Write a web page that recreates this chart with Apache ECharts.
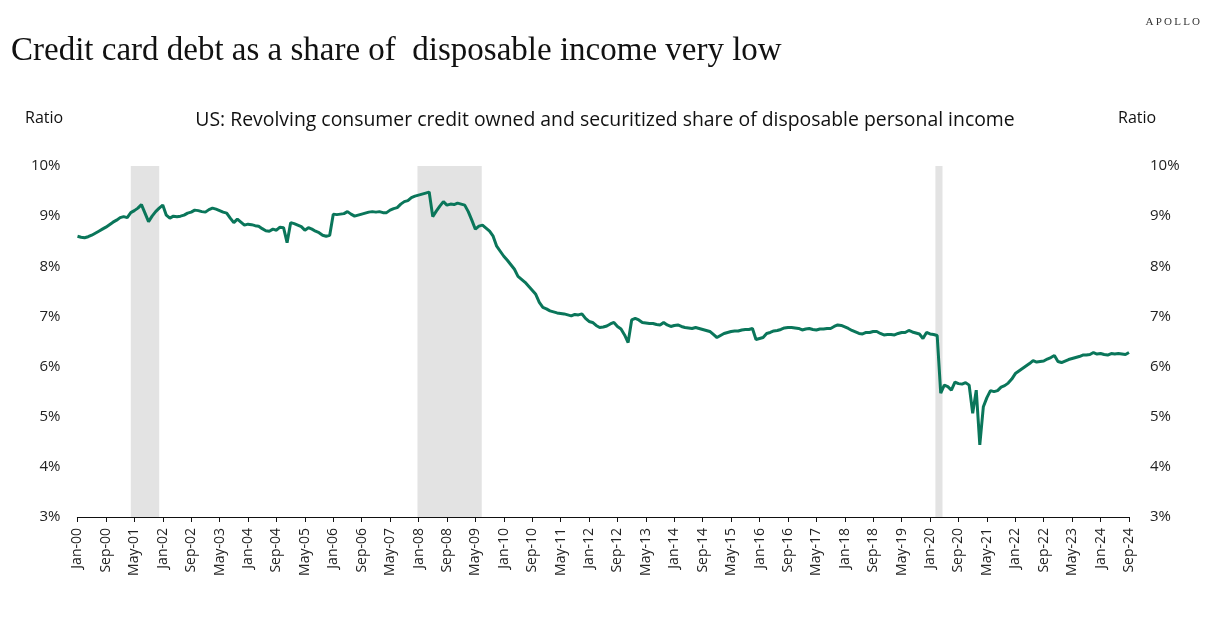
<!DOCTYPE html>
<html><head><meta charset="utf-8">
<script src="https://cdn.jsdelivr.net/npm/echarts@6/dist/echarts.min.js"></script>
<style>html,body{margin:0;padding:0;background:#fff}#c{width:1210px;height:622px}</style>
</head><body><div id="c"></div>
<script>
// Monthly values, Jan-2000 .. Sep-2024 (percent of disposable personal income)
const v2000 = [8.60, 8.58, 8.57, 8.59, 8.62, 8.66, 8.70, 8.74, 8.78, 8.83, 8.88, 8.92];
const v2001 = [8.97, 8.99, 8.97, 9.07, 9.11, 9.16, 9.23, 9.06, 8.89, 9.00, 9.09, 9.16];
const v2002 = [9.22, 9.02, 8.96, 9.00, 8.99, 9.00, 9.02, 9.06, 9.08, 9.12, 9.11, 9.09];
const v2003 = [9.08, 9.13, 9.16, 9.14, 9.11, 9.08, 9.06, 8.96, 8.87, 8.94, 8.88, 8.82];
const v2004 = [8.84, 8.83, 8.81, 8.80, 8.75, 8.71, 8.70, 8.74, 8.72, 8.78, 8.77, 8.47];
const v2005 = [8.87, 8.85, 8.82, 8.79, 8.72, 8.77, 8.74, 8.70, 8.67, 8.62, 8.60, 8.62];
const v2006 = [9.04, 9.03, 9.04, 9.05, 9.09, 9.04, 9.00, 9.02, 9.04, 9.06, 9.08, 9.09];
const v2007 = [9.08, 9.09, 9.07, 9.07, 9.12, 9.15, 9.17, 9.24, 9.29, 9.31, 9.37, 9.40];
const v2008 = [9.42, 9.44, 9.46, 9.48, 8.99, 9.10, 9.20, 9.29, 9.22, 9.24, 9.23, 9.26];
const v2009 = [9.24, 9.22, 9.09, 8.92, 8.74, 8.80, 8.82, 8.76, 8.70, 8.60, 8.40, 8.30];
const v2010 = [8.20, 8.12, 8.03, 7.94, 7.80, 7.74, 7.68, 7.60, 7.52, 7.44, 7.28, 7.18];
const v2011 = [7.15, 7.11, 7.09, 7.07, 7.06, 7.05, 7.03, 7.01, 7.04, 7.03, 7.05, 6.96];
const v2012 = [6.90, 6.88, 6.82, 6.78, 6.79, 6.81, 6.85, 6.88, 6.80, 6.75, 6.63, 6.48];
const v2013 = [6.93, 6.96, 6.93, 6.88, 6.87, 6.86, 6.86, 6.84, 6.83, 6.88, 6.83, 6.80];
const v2014 = [6.82, 6.83, 6.80, 6.78, 6.77, 6.76, 6.78, 6.76, 6.74, 6.72, 6.70, 6.64];
const v2015 = [6.58, 6.62, 6.66, 6.68, 6.70, 6.71, 6.71, 6.73, 6.74, 6.74, 6.76, 6.54];
const v2016 = [6.56, 6.58, 6.66, 6.68, 6.71, 6.72, 6.74, 6.77, 6.78, 6.78, 6.77, 6.76];
const v2017 = [6.73, 6.75, 6.76, 6.74, 6.73, 6.75, 6.75, 6.76, 6.76, 6.80, 6.83, 6.82];
const v2018 = [6.79, 6.76, 6.72, 6.69, 6.66, 6.65, 6.68, 6.68, 6.70, 6.70, 6.66, 6.63];
const v2019 = [6.64, 6.64, 6.63, 6.66, 6.68, 6.68, 6.72, 6.69, 6.67, 6.65, 6.56, 6.68];
const v2020 = [6.65, 6.64, 6.62, 5.47, 5.63, 5.60, 5.53, 5.69, 5.66, 5.65, 5.68, 5.63];
const v2021 = [5.07, 5.53, 4.44, 5.20, 5.38, 5.52, 5.50, 5.52, 5.59, 5.62, 5.67, 5.75];
const v2022 = [5.86, 5.91, 5.96, 6.01, 6.06, 6.12, 6.09, 6.10, 6.11, 6.15, 6.18, 6.22];
const v2023 = [6.10, 6.08, 6.11, 6.14, 6.16, 6.18, 6.20, 6.23, 6.23, 6.24, 6.28, 6.25];
const v2024 = [6.26, 6.24, 6.23, 6.26, 6.25, 6.26, 6.25, 6.24, 6.28];

const tickLabels = ['Jan-00','Sep-00','May-01','Jan-02','Sep-02','May-03','Jan-04','Sep-04','May-05','Jan-06',
  'Sep-06','May-07','Jan-08','Sep-08','May-09','Jan-10','Sep-10','May-11','Jan-12','Sep-12',
  'May-13','Jan-14','Sep-14','May-15','Jan-16','Sep-16','May-17','Jan-18','Sep-18','May-19',
  'Jan-20','Sep-20','May-21','Jan-22','Sep-22','May-23','Jan-24','Sep-24'];
const yTicks = [3, 4, 5, 6, 7, 8, 9, 10];
// Recession shading, in months since Jan-00
const recessionStart = [15, 95.7, 241.5];
const recessionEnd = [23, 113.8, 243.5];

const values = [].concat(v2000,v2001,v2002,v2003,v2004,v2005,v2006,v2007,v2008,v2009,v2010,v2011,
  v2012,v2013,v2014,v2015,v2016,v2017,v2018,v2019,v2020,v2021,v2022,v2023,v2024);
const seriesData = values.map((v, i) => [i, v]);
const lastIdx = values.length - 1;

const chart = echarts.init(document.getElementById('c'), null, {renderer: 'canvas'});
const sans = "'Open Sans', 'Noto Sans', sans-serif";
const baseLabel = {formatter: '{value}%', fontFamily: sans, fontSize: 15, color: '#222'};
const yAxisCommon = {
  type: 'value', min: yTicks[0], max: yTicks[yTicks.length - 1], interval: 1,
  axisLine: {show: false}, axisTick: {show: false}, splitLine: {show: false}
};
chart.setOption({
  animation: false,
  backgroundColor: '#fff',
  title: [
    {text: 'Credit card debt as a share of  disposable income very low', left: 6, top: 30,
     textStyle: {fontFamily: "'Liberation Serif', 'DejaVu Serif', serif", fontSize: 33, fontWeight: 'normal', color: '#111'}},
    {text: 'A\u2009P\u2009O\u2009L\u2009L\u2009O', right: 5, top: 12,
     textStyle: {fontFamily: "'Liberation Serif', serif", fontSize: 11, fontWeight: 'normal', color: '#333'}},
    {text: 'US: Revolving consumer credit owned and securitized share of disposable personal income', left: 'center', top: 106,
     textStyle: {fontFamily: sans, fontSize: 19.4, fontWeight: 'normal', color: '#111'}},
    {text: 'Ratio', left: 20, top: 105, textStyle: {fontFamily: sans, fontSize: 16, fontWeight: 'normal', color: '#111'}},
    {text: 'Ratio', left: 1113, top: 105, textStyle: {fontFamily: sans, fontSize: 16, fontWeight: 'normal', color: '#111'}}
  ],
  grid: {left: 77.5, right: 81, top: 166, bottom: 105, containLabel: false},
  xAxis: {
    type: 'value', min: 0, max: lastIdx, interval: 8,
    splitLine: {show: false},
    axisLine: {show: true, lineStyle: {color: '#111', width: 1.2}},
    axisTick: {show: true, length: 5, lineStyle: {color: '#111'}},
    axisLabel: {rotate: 90, margin: 11, fontFamily: sans, fontSize: 14, color: '#222',
      formatter: (val) => tickLabels[Math.round(val / 8)] || ''}
  },
  yAxis: [
    Object.assign({}, yAxisCommon, {position: 'left', axisLabel: Object.assign({}, baseLabel, {margin: 17})}),
    Object.assign({}, yAxisCommon, {position: 'right', axisLabel: Object.assign({}, baseLabel, {margin: 21})})
  ],
  series: [{
    type: 'line', data: seriesData, showSymbol: false, symbol: 'none',
    lineStyle: {color: '#0a765a', width: 3}, itemStyle: {color: '#0a765a'},
    z: 5,
    markArea: {
      silent: true,
      itemStyle: {color: '#e3e3e3'},
      data: recessionStart.map((s, k) => [{xAxis: s}, {xAxis: recessionEnd[k]}])
    }
  }]
});
</script></body></html>
